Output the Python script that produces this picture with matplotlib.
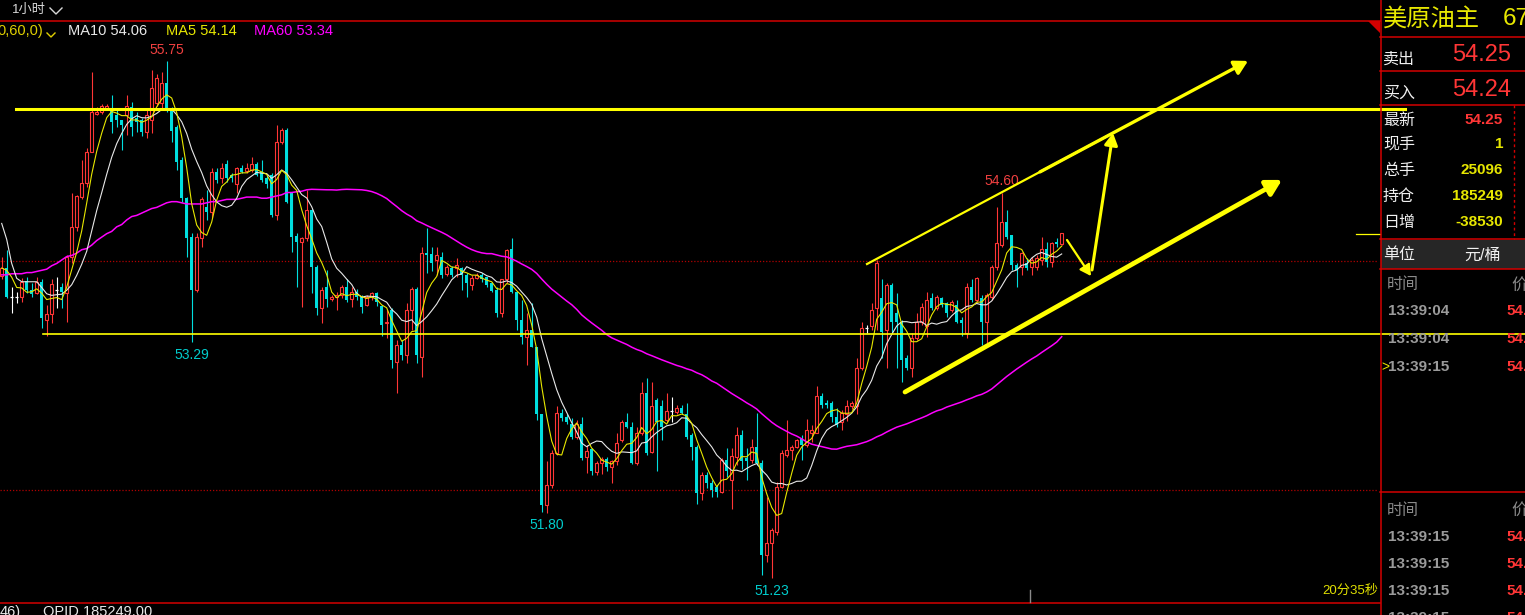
import numpy as np
import pandas as pd
import matplotlib
matplotlib.use("Agg")
import matplotlib.pyplot as plt
from matplotlib.patches import Rectangle, Polygon

plt.rcParams['font.family'] = ['Liberation Sans', 'Noto Sans CJK SC', 'DejaVu Sans']

# 1 hour candles
opens = [
    53.87, 53.94, 53.69, 53.69, 53.69, 53.83, 53.75, 53.72, 53.82, 53.49,
    53.54, 53.75, 53.77, 53.72, 54.04, 54.30, 54.56, 54.68, 54.95, 55.29,
    55.30, 55.34, 55.32, 55.28, 55.23, 55.28, 55.35, 55.25, 55.23, 55.13,
    55.23, 55.38, 55.38, 55.56, 55.32, 55.17, 54.88, 54.55, 54.21, 53.75,
    54.20, 54.47, 54.43, 54.78, 54.73, 54.85, 54.75, 54.67, 54.81, 54.79,
    54.80, 54.85, 54.78, 54.73, 54.75, 54.40, 55.04, 55.15, 54.60, 54.22,
    54.17, 54.20, 54.45, 53.95, 53.59, 53.77, 53.67, 53.69, 53.70, 53.77,
    53.67, 53.73, 53.69, 53.62, 53.69, 53.72, 53.61, 53.46, 53.57, 53.12,
    53.27, 53.18, 53.57, 53.76, 53.16, 54.07, 54.06, 54.01, 54.04, 53.89,
    53.94, 53.94, 53.94, 53.88, 53.79, 53.85, 53.88, 53.86, 53.81, 53.75,
    53.55, 53.84, 54.11, 53.73, 53.49, 53.34, 53.40, 53.25, 52.66, 51.87,
    52.04, 52.32, 52.67, 52.64, 52.58, 52.46, 52.58, 52.29, 52.36, 52.16,
    52.24, 52.27, 52.20, 52.25, 52.44, 52.59, 52.55, 52.24, 52.50, 52.85,
    52.33, 52.79, 52.73, 52.61, 52.69, 52.68, 52.72, 52.66, 52.48, 52.38,
    51.97, 52.13, 52.06, 52.03, 51.98, 52.26, 52.09, 52.29, 52.48, 52.28,
    52.26, 52.38, 52.24, 51.43, 51.54, 51.63, 52.03, 52.31, 52.35, 52.38,
    52.45, 52.39, 52.50, 52.50, 52.82, 52.76, 52.76, 52.64, 52.59, 52.66,
    52.73, 52.73, 53.07, 53.42, 53.43, 53.59, 53.68, 53.40, 53.79, 53.55,
    53.47, 53.15, 53.07, 53.33, 53.47, 53.43, 53.68, 53.59, 53.68, 53.63,
    53.57, 53.62, 53.49, 53.37, 53.77, 53.66, 53.68, 53.47, 53.69, 53.95,
    54.14, 54.34, 54.23, 53.97, 53.95, 53.98, 53.95, 53.95, 54.01, 54.11,
    53.99, 54.17, 54.15]
highs = [
    54.04, 54.10, 53.77, 53.73, 53.85, 53.86, 53.81, 53.86, 53.84, 53.62,
    53.84, 53.86, 53.81, 54.05, 54.60, 54.58, 54.88, 54.99, 55.65, 55.35,
    55.37, 55.37, 55.45, 55.32, 55.23, 55.45, 55.39, 55.30, 55.25, 55.32,
    55.67, 55.64, 55.65, 55.75, 55.35, 55.19, 54.91, 54.56, 54.25, 54.25,
    54.56, 54.62, 54.81, 54.81, 54.86, 54.88, 54.77, 54.82, 54.84, 54.86,
    54.91, 54.87, 54.88, 54.75, 54.77, 55.19, 55.16, 55.16, 54.60, 54.25,
    54.21, 54.62, 54.46, 53.97, 53.77, 53.92, 53.70, 53.73, 53.79, 53.84,
    53.77, 53.76, 53.70, 53.70, 53.73, 53.73, 53.62, 53.57, 53.59, 53.31,
    53.31, 53.63, 53.77, 53.77, 54.12, 54.29, 54.12, 54.12, 54.08, 53.97,
    53.96, 54.03, 53.95, 53.90, 53.88, 53.90, 53.90, 53.86, 53.82, 53.77,
    53.84, 54.11, 54.20, 53.73, 53.66, 53.55, 53.63, 53.25, 52.66, 52.25,
    52.35, 52.73, 52.71, 52.66, 52.63, 52.61, 52.64, 52.39, 52.37, 52.25,
    52.29, 52.29, 52.26, 52.50, 52.61, 52.67, 52.59, 52.55, 52.94, 52.98,
    52.94, 52.80, 52.79, 52.85, 52.81, 52.74, 52.74, 52.76, 52.50, 52.39,
    52.16, 52.16, 52.09, 52.04, 52.28, 52.37, 52.37, 52.55, 52.52, 52.37,
    52.45, 52.67, 52.26, 51.94, 51.67, 52.07, 52.35, 52.61, 52.39, 52.45,
    52.48, 52.62, 52.57, 52.91, 52.85, 52.79, 52.78, 52.72, 52.70, 52.79,
    52.78, 53.15, 53.47, 53.44, 53.63, 54.01, 53.84, 53.81, 53.81, 53.72,
    53.49, 53.18, 53.37, 53.55, 53.63, 53.73, 53.72, 53.70, 53.69, 53.64,
    53.66, 53.66, 53.51, 53.81, 53.84, 53.86, 53.70, 53.72, 53.97, 54.47,
    54.60, 54.45, 54.23, 53.98, 54.08, 54.03, 54.04, 54.05, 54.21, 54.17,
    54.17, 54.20, 54.25]
lows = [
    53.84, 53.68, 53.55, 53.63, 53.64, 53.72, 53.69, 53.71, 53.42, 53.35,
    53.46, 53.59, 53.59, 53.47, 53.98, 54.26, 54.54, 54.65, 54.95, 55.28,
    55.29, 55.32, 55.12, 55.17, 54.97, 55.10, 55.09, 55.13, 55.09, 55.08,
    55.12, 55.36, 55.32, 55.30, 55.04, 54.80, 54.52, 54.04, 53.29, 53.73,
    54.12, 54.36, 54.38, 54.68, 54.68, 54.69, 54.69, 54.60, 54.77, 54.77,
    54.78, 54.74, 54.69, 54.64, 54.39, 54.36, 55.02, 54.51, 54.08, 53.77,
    53.60, 54.18, 53.72, 53.53, 53.46, 53.60, 53.65, 53.57, 53.68, 53.64,
    53.60, 53.66, 53.55, 53.61, 53.66, 53.61, 53.35, 53.33, 53.07, 52.85,
    53.14, 53.11, 53.40, 53.11, 52.99, 53.90, 53.91, 53.88, 53.85, 53.87,
    53.86, 53.86, 53.75, 53.69, 53.75, 53.84, 53.82, 53.77, 53.73, 53.51,
    53.51, 53.81, 53.72, 53.40, 53.28, 53.09, 53.25, 52.61, 51.81, 51.80,
    52.02, 52.31, 52.60, 52.58, 52.45, 52.45, 52.26, 52.15, 52.13, 52.13,
    52.14, 52.17, 52.06, 52.22, 52.42, 52.54, 52.23, 52.22, 52.48, 52.31,
    52.32, 52.17, 52.44, 52.59, 52.59, 52.66, 52.66, 52.45, 52.26, 51.88,
    51.91, 52.02, 51.94, 51.94, 51.97, 52.11, 51.83, 52.22, 52.18, 52.09,
    52.24, 52.22, 51.26, 51.37, 51.23, 51.61, 52.02, 52.29, 52.26, 52.37,
    52.26, 52.38, 52.42, 52.50, 52.72, 52.72, 52.59, 52.55, 52.52, 52.60,
    52.71, 52.66, 53.05, 53.37, 53.40, 53.40, 53.15, 53.07, 53.37, 53.07,
    52.94, 53.05, 52.99, 53.31, 53.44, 53.34, 53.57, 53.57, 53.60, 53.51,
    53.56, 53.46, 53.35, 53.33, 53.64, 53.64, 53.27, 53.27, 53.66, 53.92,
    54.12, 54.19, 53.92, 53.77, 53.88, 53.92, 53.88, 53.92, 53.97, 53.95,
    53.95, 54.12, 54.14]
closes = [
    53.94, 53.69, 53.69, 53.69, 53.82, 53.75, 53.71, 53.82, 53.50, 53.54,
    53.80, 53.75, 53.73, 54.04, 54.30, 54.57, 54.68, 54.95, 55.30, 55.30,
    55.36, 55.36, 55.22, 55.23, 55.19, 55.36, 55.17, 55.22, 55.13, 55.28,
    55.51, 55.60, 55.56, 55.32, 55.14, 54.87, 54.55, 54.20, 53.75, 54.21,
    54.54, 54.43, 54.78, 54.71, 54.81, 54.73, 54.73, 54.81, 54.78, 54.81,
    54.85, 54.75, 54.71, 54.67, 54.40, 55.04, 55.15, 54.52, 54.21, 54.17,
    54.20, 54.45, 53.95, 53.59, 53.75, 53.67, 53.69, 53.70, 53.77, 53.66,
    53.73, 53.69, 53.60, 53.69, 53.72, 53.64, 53.44, 53.47, 53.14, 53.27,
    53.18, 53.57, 53.76, 53.18, 54.07, 54.05, 53.98, 54.05, 53.88, 53.95,
    53.88, 53.97, 53.88, 53.81, 53.85, 53.88, 53.84, 53.79, 53.74, 53.55,
    53.84, 54.10, 53.73, 53.49, 53.34, 53.40, 53.25, 52.66, 51.87, 52.04,
    52.32, 52.67, 52.63, 52.59, 52.46, 52.58, 52.28, 52.34, 52.17, 52.24,
    52.27, 52.20, 52.25, 52.41, 52.59, 52.55, 52.24, 52.50, 52.85, 52.32,
    52.73, 52.59, 52.55, 52.69, 52.69, 52.72, 52.67, 52.46, 52.38, 51.97,
    52.13, 52.06, 52.00, 51.98, 52.26, 52.17, 52.30, 52.48, 52.25, 52.25,
    52.38, 52.24, 51.43, 51.54, 51.65, 52.03, 52.32, 52.35, 52.38, 52.44,
    52.39, 52.52, 52.52, 52.82, 52.74, 52.74, 52.64, 52.57, 52.67, 52.73,
    52.76, 53.07, 53.42, 53.42, 53.57, 53.98, 53.38, 53.79, 53.47, 53.47,
    53.14, 53.07, 53.33, 53.47, 53.60, 53.66, 53.59, 53.69, 53.62, 53.55,
    53.64, 53.47, 53.46, 53.77, 53.66, 53.85, 53.47, 53.70, 53.95, 54.16,
    54.34, 54.21, 53.97, 53.92, 54.07, 53.94, 54.01, 54.03, 54.11, 53.99,
    54.16, 54.15, 54.25]

# moving averages before the window fills (bars before the screen)
ma5_head = [53.94, 53.92, 53.86, 53.77]
ma10_head = [54.33, 54.19, 53.98, 53.85, 53.82, 53.82, 53.82, 53.82, 53.77]
ma60_head = [
    53.88, 53.88, 53.89, 53.89, 53.89, 53.90, 53.90, 53.91, 53.92, 53.93,
    53.96, 53.98, 54.01, 54.04, 54.05, 54.07, 54.10, 54.11, 54.14, 54.18,
    54.21, 54.24, 54.26, 54.30, 54.32, 54.36, 54.39, 54.40, 54.42, 54.44,
    54.46, 54.47, 54.49, 54.51, 54.52, 54.52, 54.51, 54.50, 54.50, 54.50,
    54.50, 54.51, 54.52, 54.52, 54.53, 54.54, 54.54, 54.54, 54.55, 54.56,
    54.56, 54.56, 54.55, 54.55, 54.56, 54.57, 54.58, 54.60, 54.60]

# marked extremes: (bar, 'high' / 'low')
extremes = [(33, 'high'), (38, 'low'), (109, 'low'), (154, 'low'), (200, 'high')]

# hand drawn lines (bar, price)
resist_hi = 55.33
support_lo = 53.36
grid_prices = [54.00, 52.00]
channel_top = [(173.06, 53.975), (222.26, 55.12)]
arrows = [
    ((207.66, 54.78), (249.26, 55.75), 2.4, 16),
    ((180.66, 52.856), (256.06, 54.71), 3.4, 18),
    ((213.06, 54.185), (217.86, 53.87), 1.6, 13),
    ((218.06, 53.923), (222.26, 55.12), 2.2, 14),
]

RED = '#ff3636'
CYAN = '#00dede'
YEL = '#ffff00'
MA5C = '#e8e800'
MA10C = '#e8e8e8'
MA60C = '#ff00ff'
LINE_RED = '#d40000'

o = np.array(opens)
h = np.array(highs)
l = np.array(lows)
c = np.array(closes)
x = np.arange(len(c))

s = pd.Series(closes)
ma5 = s.rolling(5, min_periods=1).mean().to_numpy()
ma5[:4] = ma5_head
ma10 = s.rolling(10, min_periods=1).mean().to_numpy()
ma10[:9] = ma10_head
ma60 = s.rolling(60).mean().to_numpy()
ma60[:59] = ma60_head

W, H = 1525, 615
fig = plt.figure(figsize=(W / 100, H / 100), dpi=100, facecolor='black')
ax = fig.add_axes([0, 1 - 602 / H, 1378 / W, 581 / H])
ax.set_facecolor('black')
ax.set_xlim(-0.34, 275.26)
ax.set_ylim(51.021, 56.099)
for sp in ax.spines.values():
    sp.set_visible(False)
ax.set_xticks([])
ax.set_yticks([])

for gp in grid_prices:
    ax.axhline(gp, color='#b00000', lw=0.9, ls=(0, (1, 1.5)), zorder=1)

up = c > o
dn = c < o
eq = c == o
bw = 0.62
# down candles: filled cyan
ax.vlines(x[dn], l[dn], h[dn], color=CYAN, lw=0.8, zorder=2)
ax.bar(x[dn], o[dn] - c[dn], bottom=c[dn], width=bw, color=CYAN, lw=0, zorder=2)
# up candles: hollow red
ax.vlines(x[up], c[up], h[up], color=RED, lw=0.8, zorder=2)
ax.vlines(x[up], l[up], o[up], color=RED, lw=0.8, zorder=2)
ax.bar(x[up], c[up] - o[up], bottom=o[up], width=bw, facecolor='black',
       edgecolor=RED, lw=0.8, zorder=2)
# doji
ax.vlines(x[eq], l[eq], h[eq], color='white', lw=0.8, zorder=2)
ax.hlines(c[eq], x[eq] - bw / 2, x[eq] + bw / 2, color='white', lw=0.9, zorder=2)

ax.plot(x, ma60, color=MA60C, lw=1.1, zorder=3)
ax.plot(x, ma10, color=MA10C, lw=0.8, zorder=3)
ax.plot(x, ma5, color=MA5C, lw=0.8, zorder=3)

for i, kind in extremes:
    if kind == 'high':
        ax.annotate(f'{h[i]:.2f}', (i, h[i]), xytext=(0, 8), textcoords='offset points',
                    ha='center', va='center', color='#f04040', fontsize=10)
    else:
        ax.annotate(f'{l[i]:.2f}', (i, l[i]), xytext=(0, -9), textcoords='offset points',
                    ha='center', va='center', color='#00cccc', fontsize=10)

yt = ax.get_yaxis_transform()
ax.plot([16 / 1378, 1405 / 1378], [resist_hi, resist_hi], color=YEL, lw=2.2,
        transform=yt, clip_on=False, zorder=4)
ax.plot([43 / 1378, 1525 / 1378], [support_lo, support_lo], color=YEL, lw=1.2,
        transform=yt, clip_on=False, zorder=4)
ax.plot([1356 / 1378, 1380 / 1378], [54.24, 54.24], color=YEL, lw=0.9,
        transform=yt, clip_on=False, zorder=4)

ax.plot([p[0] for p in channel_top], [p[1] for p in channel_top], color=YEL, lw=1.6, zorder=5)
for start, tip, lw, ms in arrows:
    ax.annotate('', xy=tip, xytext=start, annotation_clip=False,
                arrowprops=dict(arrowstyle='-|>,head_length=0.5,head_width=0.28', color=YEL,
                                lw=lw, mutation_scale=ms, shrinkA=0, shrinkB=0),
                zorder=5)

# overlay in pixel units for the frame and side panel
ov = fig.add_axes([0, 0, 1, 1])
ov.set_xlim(0, W)
ov.set_ylim(H, 0)
ov.axis('off')
ov.patch.set_alpha(0)

ov.plot([0, 1380], [20.5, 20.5], color=LINE_RED, lw=1.1)
ov.plot([0, 1380], [602.5, 602.5], color=LINE_RED, lw=1.1)
ov.plot([1380.5, 1380.5], [0, H], color=LINE_RED, lw=1.1)
for yy in [37, 71, 105, 239, 269, 492]:
    ov.plot([1380, W], [yy, yy], color=LINE_RED, lw=1.1)
ov.plot([1514, 1514], [105, 239], color=LINE_RED, lw=1, ls=(0, (2, 2)))
ov.add_patch(Rectangle((1381, 239.5), W - 1381, 29, facecolor='#262626', lw=0))
ov.add_patch(Polygon([(1368, 21), (1380, 21), (1380, 33)], closed=True,
                     facecolor=LINE_RED, lw=0))
ov.plot([1030, 1030], [590, 602], color='#8a8a8a', lw=1)

# top bar
ov.text(12, 10, '1小时', color='#d8d8d8', fontsize=9.5, va='center', ha='left')
ov.plot([50, 56, 62], [8, 14, 8], color='#d8d8d8', lw=1)
ov.text(43, 31, '0,60,0)', color='#e0d000', fontsize=10.5, va='center', ha='right')
ov.plot([47, 51, 55], [33, 37, 33], color='#e0d000', lw=1)
ov.text(68, 31, 'MA10 54.06', color=MA10C, fontsize=10.5, va='center')
ov.text(166, 31, 'MA5 54.14', color=MA5C, fontsize=10.5, va='center')
ov.text(254, 31, 'MA60 53.34', color=MA60C, fontsize=10.5, va='center')

ov.text(1378, 591, '20分35秒', color='#e0e000', fontsize=9.5, va='center', ha='right')
ov.text(0, 605, '46)', color='#e8e8e8', fontsize=10.5, va='top', ha='left')
ov.text(43, 605, 'OPID 185249.00', color='#e8e8e8', fontsize=10.5, va='top', ha='left')

# side panel
ov.text(1383, 19, '美原油主', color='#e8e800', fontsize=17.5, va='center', ha='left')
ov.text(1503, 19, '67', color='#e8e800', fontsize=17.5, va='center', ha='left')
ov.text(1383, 59, '卖出', color='#f0f0f0', fontsize=11.5, va='center')
ov.text(1452, 55, '54.25', color=RED, fontsize=17, va='center')
ov.text(1383, 93, '买入', color='#f0f0f0', fontsize=11.5, va='center')
ov.text(1452, 90, '54.24', color=RED, fontsize=17, va='center')

rows = ['最新', '现手', '总手', '持仓', '日增']
row_vals = ['54.25', '1', '25096', '185249', '-38530']
row_y = [120, 144, 170, 196, 222]
for name, val, yy in zip(rows, row_vals, row_y):
    ov.text(1383, yy, name, color='#f0f0f0', fontsize=11.5, va='center')
    ov.text(1503, yy, val, color=RED if name == '最新' else '#e6e600', fontsize=11,
            fontweight='bold', va='center', ha='right')

ov.text(1383, 255, '单位', color='#f0f0f0', fontsize=11.5, va='center')
ov.text(1483, 255, '元/桶', color='#f0f0f0', fontsize=11.5, va='center', ha='center')

tick_times = ['13:39:04', '13:39:04', '13:39:15']
tick_times2 = ['13:39:15', '13:39:15', '13:39:15', '13:39:15']
for head_y, times, ys in [(285, tick_times, [311, 339, 367]),
                          (510, tick_times2, [537, 564, 591, 618])]:
    ov.text(1387, head_y, '时间', color='#8a8a8a', fontsize=11.5, va='center')
    ov.text(1511, head_y, '价格', color='#8a8a8a', fontsize=11.5, va='center')
    for t, yy in zip(times, ys):
        ov.text(1388, yy, t, color='#9a9a9a', fontsize=11, fontweight='bold', va='center')
        ov.text(1506, yy, '54.25', color=RED, fontsize=11, fontweight='bold', va='center')
ov.text(1381, 367, '>', color='#e6e600', fontsize=10, va='center')

fig.savefig('out.png', dpi=100, facecolor='black')
